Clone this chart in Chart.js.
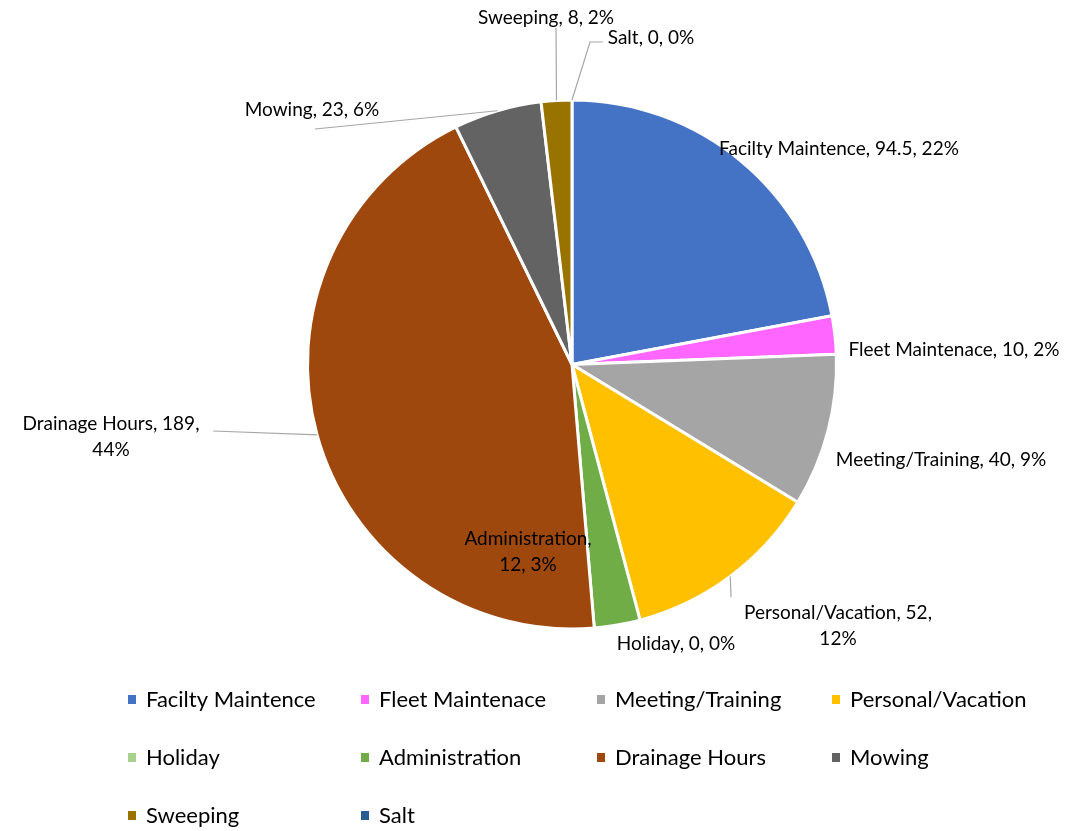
<!DOCTYPE html>
<html>
<head>
<meta charset="utf-8">
<script src="https://cdn.jsdelivr.net/npm/chart.js@4.4.0/dist/chart.umd.min.js"></script>
<style>
  body { margin: 0; background: #fff; }
  #wrap { width: 1068px; height: 831px; }
</style>
</head>
<body>
<div id="wrap"><canvas id="pieChart" width="1068" height="831"></canvas></div>
<script>
// Datos
const categories = ['Facilty Maintence','Fleet Maintenace','Meeting/Training','Personal/Vacation','Holiday','Administration','Drainage Hours','Mowing','Sweeping','Salt'];
const hours = [94.5, 10, 40, 52, 0, 12, 189, 23, 8, 0];
const percents = [22, 2, 9, 12, 0, 3, 44, 6, 2, 0];
const sliceColors = ['#4472C4','#FF66FF','#A5A5A5','#FFC000','#A9D18E','#70AD47','#9E480E','#636363','#997300','#255E91'];

// Posición de etiquetas (centro x, línea base y) y líneas guía
const labelLayout = [
  { x: 839, y: 155, lines: 1 },
  { x: 954, y: 356, lines: 1 },
  { x: 941, y: 466, lines: 1 },
  { x: 838, y: 619, lines: 2, lead: [[731, 597]] },
  { x: 676, y: 650, lines: 1 },
  { x: 528, y: 545, lines: 2 },
  { x: 111, y: 430, lines: 2, lead: [[213, 431]] },
  { x: 312, y: 116, lines: 1, lead: [[315, 129]] },
  { x: 546, y: 24, lines: 1, lead: [[556, 28]] },
  { x: 651, y: 44, lines: 1, lead: [[590, 42], [603, 42]] }
];
const FONT = 'Lato, "Open Sans", sans-serif';

const sliceLabels = {
  id: 'sliceLabels',
  afterDatasetsDraw(chart){
    const ctx = chart.ctx;
    const meta = chart.getDatasetMeta(0);
    ctx.save();
    meta.data.forEach((arc, i)=>{
      const L = labelLayout[i];
      if(L.lead){
        const mid = (arc.startAngle + arc.endAngle) / 2;
        const r = arc.outerRadius;
        ctx.beginPath();
        ctx.moveTo(arc.x + Math.cos(mid) * r, arc.y + Math.sin(mid) * r);
        L.lead.forEach(p => ctx.lineTo(p[0], p[1]));
        ctx.strokeStyle = '#A6A6A6';
        ctx.lineWidth = 1.2;
        ctx.stroke();
      }
      const full = `${categories[i]}, ${hours[i]}, ${percents[i]}%`;
      let lines = [full];
      if(L.lines === 2){
        // partir antes del último trozo (o de los dos últimos)
        const parts = full.split(', ');
        if(i === 5) lines = [parts[0] + ',', parts.slice(1).join(', ')];
        else lines = [parts.slice(0, 2).join(', ') + ',', parts[2]];
      }
      ctx.font = `19px ${FONT}`;
      ctx.fillStyle = '#000';
      ctx.textAlign = 'center';
      ctx.textBaseline = 'alphabetic';
      lines.forEach((t, k)=> ctx.fillText(t, L.x, L.y + k * 26));
    });
    ctx.restore();
  }
};

// Leyenda en cuadrícula de 4 columnas
const legendCols = [128, 361, 597, 832];
const legendRows = [700, 758, 816];
const gridLegend = {
  id: 'gridLegend',
  afterDraw(chart){
    const ctx = chart.ctx;
    ctx.save();
    ctx.font = `22px ${FONT}`;
    ctx.textBaseline = 'middle';
    ctx.textAlign = 'left';
    categories.forEach((c, i)=>{
      const x = legendCols[i % 4], y = legendRows[Math.floor(i / 4)];
      ctx.fillStyle = sliceColors[i];
      ctx.fillRect(x, y - 5, 8, 9);
      ctx.fillStyle = '#000';
      ctx.fillText(c, x + 18, y);
    });
    ctx.restore();
  }
};

new Chart(document.getElementById('pieChart').getContext('2d'), {
  type: 'pie',
  data: {
    labels: categories,
    datasets: [{
      data: hours,
      backgroundColor: sliceColors,
      borderColor: '#fff',
      borderWidth: 3
    }]
  },
  options: {
    responsive: false,
    animation: false,
    layout: { padding: { top: 98, bottom: 200, left: 306, right: 230 } },
    plugins: {
      legend: { display: false },
      tooltip: { enabled: false }
    }
  },
  plugins: [sliceLabels, gridLegend]
});
</script>
</body>
</html>
